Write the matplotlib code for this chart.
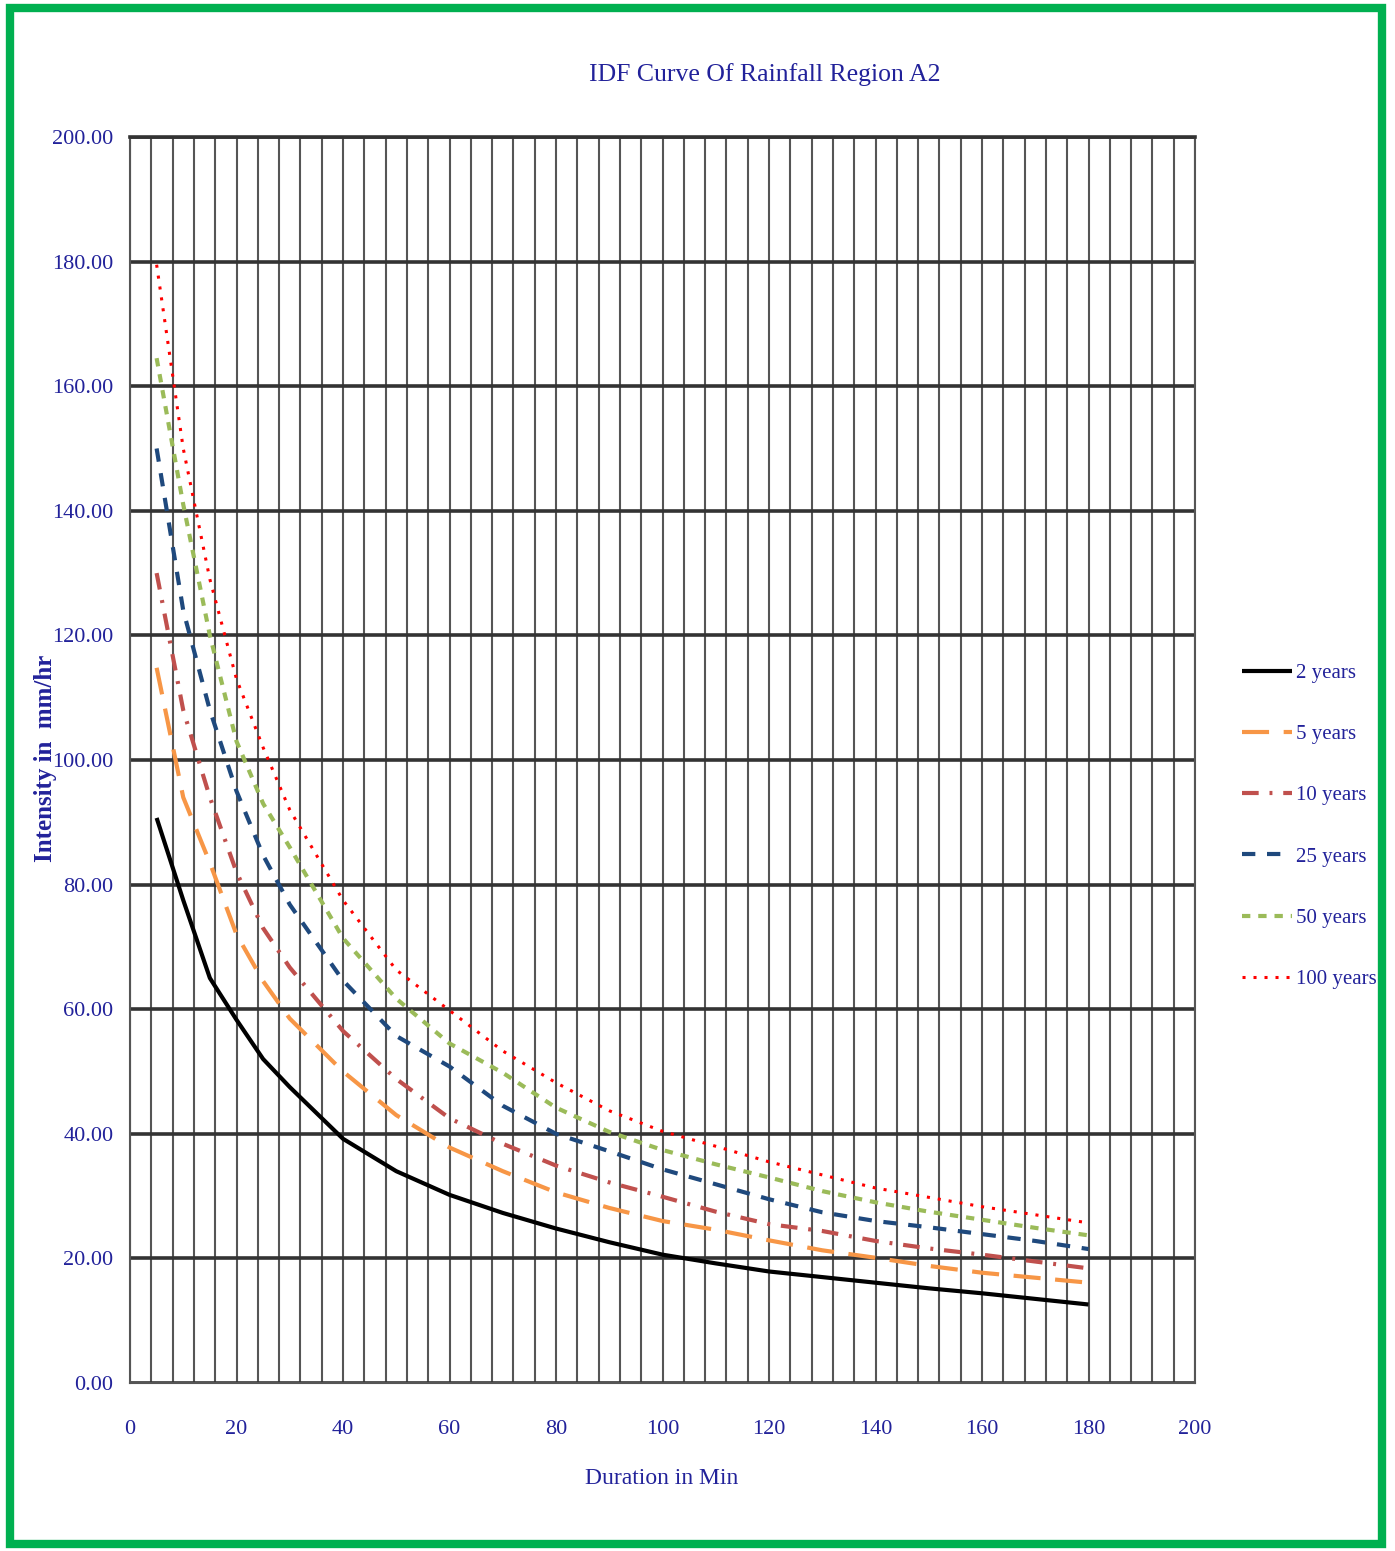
import matplotlib
matplotlib.use("Agg")
import matplotlib.pyplot as plt
from matplotlib.patches import Rectangle
from matplotlib.ticker import MultipleLocator

# durations in minutes
duration = [5, 10, 15, 20, 25, 30, 40, 50, 60, 70, 80, 90, 100,
            110, 120, 130, 140, 150, 160, 170, 180]

# intensity (mm/hr), one list per return period
i_2yr = [90.7, 77.5, 65.0, 58.3, 52.0, 47.5, 39.2, 34.0, 30.2, 27.3, 24.8, 22.6, 20.6,
         19.2, 17.9, 17.0, 16.1, 15.2, 14.4, 13.5, 12.6]
i_5yr = [114.8, 94.0, 83.5, 72.0, 64.5, 58.5, 50.0, 43.0, 37.8, 34.0, 30.6, 28.1, 26.0,
         24.6, 22.9, 21.3, 20.1, 18.8, 17.7, 16.9, 16.1]
i_10yr = [130.0, 108.0, 94.0, 82.0, 73.0, 66.7, 56.5, 48.8, 42.5, 38.4, 34.9, 32.2, 29.9,
          27.5, 25.5, 24.4, 22.8, 21.6, 20.6, 19.5, 18.4]
i_25yr = [150.0, 124.0, 108.0, 95.0, 84.7, 76.8, 64.6, 55.7, 50.8, 44.5, 40.0, 37.2, 34.3,
          31.9, 29.5, 27.4, 26.0, 25.0, 23.9, 22.8, 21.5]
i_50yr = [164.5, 141.0, 120.0, 103.0, 93.0, 86.0, 71.4, 61.7, 54.5, 49.8, 44.2, 40.3, 37.4,
          35.1, 33.0, 30.8, 29.0, 27.5, 26.2, 24.9, 23.7]
i_100yr = [179.5, 150.0, 129.0, 113.0, 102.0, 92.0, 77.5, 66.3, 59.8, 53.3, 48.2, 43.7, 40.4,
           38.0, 35.5, 33.4, 31.3, 29.8, 28.3, 27.0, 25.7]

labels = ["2 years", "5 years", "10 years", "25 years", "50 years", "100 years"]

navy = "#22229a"
serif = "Liberation Serif"

fig = plt.figure(figsize=(13.95, 15.51), dpi=100)
ax = fig.add_axes([130 / 1395, 1 - 1383 / 1551, 1065 / 1395, 1246 / 1551])

# series styles (excel-like)
ax.plot(duration, i_2yr, color="black", lw=3.0, solid_capstyle="butt", label=labels[0])
ax.plot(duration, i_5yr, color="#f79646", lw=3.0, dashes=(6.5, 3.5), label=labels[1])
ax.plot(duration, i_10yr, color="#c0504d", lw=3.0, dashes=(4, 2.6, 0.7, 2.6), label=labels[2])
ax.plot(duration, i_25yr, color="#1f497d", lw=3.0, dashes=(3.2, 2.8), label=labels[3])
ax.plot(duration, i_50yr, color="#9bbb59", lw=3.0, dashes=(2, 1.9), label=labels[4])
ax.plot(duration, i_100yr, color="#ff0000", lw=2.2, dashes=(1, 2.6), label=labels[5])

ax.set_xlim(0, 200)
ax.set_ylim(0, 200)
ax.xaxis.set_major_locator(MultipleLocator(20))
ax.xaxis.set_minor_locator(MultipleLocator(4))
ax.yaxis.set_major_locator(MultipleLocator(20))

ax.grid(True, which="major", axis="y", color="#333333", lw=2.6, zorder=0)
ax.grid(True, which="both", axis="x", color="#555555", lw=1.5, zorder=0)
ax.set_axisbelow(True)
for side in ["top", "right", "left", "bottom"]:
    ax.spines[side].set_color("#555555")
    ax.spines[side].set_linewidth(1.5)
ax.spines["top"].set_color("#333333")
ax.spines["top"].set_linewidth(2.6)

ax.tick_params(axis="both", which="both", length=0, labelsize=16, labelcolor=navy)
ax.tick_params(axis="y", pad=12)
ax.tick_params(axis="x", pad=27)
ax.set_yticks(range(0, 201, 20))
ax.set_yticklabels([f"{v:.2f}" for v in range(0, 201, 20)], family=serif)
ax.set_xticks(range(0, 201, 20))
ax.set_xticklabels([str(v) for v in range(0, 201, 20)], family=serif)

fig.text(765 / 1395, 1 - 75 / 1551, "IDF Curve Of Rainfall Region A2", family=serif,
         fontsize=18.5, color=navy, ha="center", va="center")
ax.set_xlabel("Duration in Min", family=serif, fontsize=17, color=navy)
ax.xaxis.set_label_coords(532 / 1065, -(1478 - 1383) / 1246)
ax.xaxis.label.set_va("center")
ax.set_ylabel("Intensity in  mm/hr", family=serif, fontsize=18, color=navy,
              fontweight="bold")
ax.yaxis.set_label_coords(-(130 - 46) / 1065, (1383 - 758) / 1246)
ax.yaxis.label.set_va("center")

fig.legend(loc="upper left", bbox_to_anchor=(1234 / 1395, 1 - 655 / 1551),
           frameon=False, prop={"family": serif, "size": 15}, labelcolor=navy,
           handlelength=2.4, handletextpad=0.2, labelspacing=2.0, borderaxespad=0)

# green frame around the picture
fig.patches.append(Rectangle((10 / 1395, 1 - 1544 / 1551), 1372 / 1395, 1536 / 1551,
                             transform=fig.transFigure, fill=False,
                             edgecolor="#00b050", lw=6))

fig.savefig("out.png", dpi=100)
